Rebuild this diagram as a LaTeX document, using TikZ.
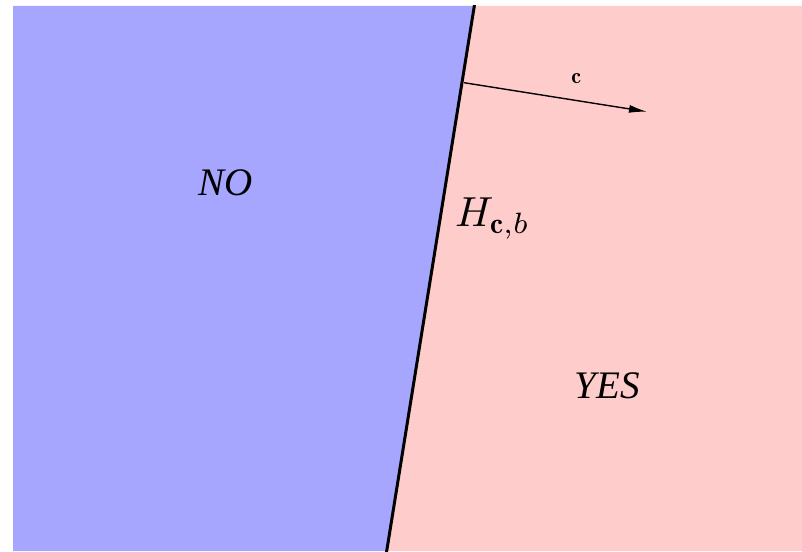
\documentclass[tikz,border=0pt]{standalone}
\usepackage{graphicx}
\usepackage{fontspec}
\newfontfamily\timesfont{Liberation Serif}
\usetikzlibrary{arrows.meta,calc}
\definecolor{nofill}{RGB}{166,166,255}
\definecolor{yesfill}{RGB}{255,204,204}
\tikzset{
  region/.style={fill=#1, draw=none},
  boundary/.style={line width=3pt, black},
  normalvec/.style={line width=1.4pt, -{Latex[length=18pt,width=8pt]}},
  bigword/.style={font=\timesfont\itshape\fontsize{39}{44}\selectfont, inner sep=0pt},
}
\begin{document}
\begin{tikzpicture}[x=1pt,y=-1pt]
\useasboundingbox (0,0) rectangle (802,551);
\coordinate (tl) at (13,6);
\coordinate (bl) at (13,551);
\coordinate (tr) at (802,6);
\coordinate (br) at (802,551);
\coordinate (htop) at (474.3,6);
\coordinate (hbot) at (386.7,551);
\fill[region=nofill] (tl) -- (htop) -- (hbot) -- (bl) -- cycle;
\fill[region=yesfill] (htop) -- (tr) -- (br) -- (hbot) -- cycle;
\begin{scope}
\clip (tl) rectangle (br);
\draw[boundary] ($(htop)!-0.02!(hbot)$) -- ($(hbot)!-0.02!(htop)$);
\end{scope}
\coordinate (cstart) at (464,82.7);
\coordinate (cend) at (647,111.7);
\draw[normalvec] (cstart) -- (cend);
\node[inner sep=0pt] (clabel) at (576.3,78.3) {\scalebox{2.2}{$\mathbf{c}$}};
\node[anchor=base west, inner sep=0pt] (hlabel) at (455,226.7) {\scalebox{4.2}{$H_{\mathbf{c},b}$}};
\node[bigword, anchor=base] (no) at (226,195.7) {NO};
\node[bigword, anchor=base] (yes) at (607,398.3) {YES};
\end{tikzpicture}
\end{document}
